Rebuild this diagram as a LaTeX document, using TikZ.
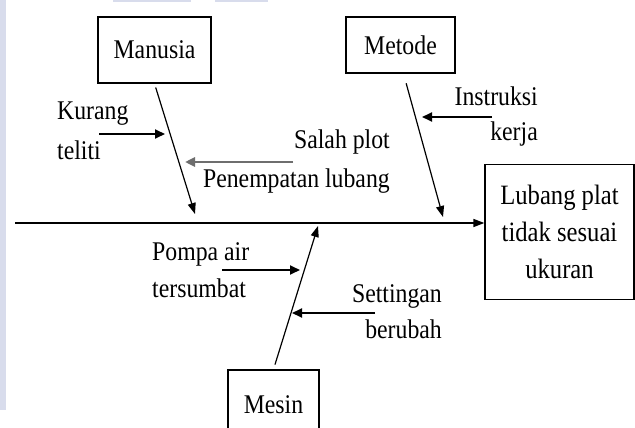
\documentclass[tikz,border=0pt]{standalone}
\usepackage{fontspec}
\setmainfont{Liberation Serif}[FakeStretch=0.88]
\usetikzlibrary{arrows.meta,positioning}
\definecolor{ScanLilac}{HTML}{D8DCEC}
\definecolor{PlotGray}{HTML}{6E6E6E}

\begin{document}
\begin{tikzpicture}[x=1pt,y=-1pt,
    box/.style={
      draw,
      line width=1.3pt,
      inner sep=0pt,
      align=center,
      font=\fontsize{27}{38}\selectfont
    },
    cause/.style={
      inner sep=0pt,
      font=\fontsize{27}{38}\selectfont
    },
    spine/.style={
      -{Triangle[length=11pt,width=8pt]},
      line width=1.2pt
    },
    sub/.style={
      -{Triangle[length=10pt,width=9pt]},
      line width=1.8pt
    }
  ]

  % Page and scan edge
  \fill[white] (0,0) rectangle (635,428);
  \useasboundingbox (0,0) rectangle (635,428);
  \clip (0,0) rectangle (635,428);
  \fill[ScanLilac] (0,0) rectangle (6,410);
  \fill[ScanLilac] (113,0) rectangle (191,2);
  \fill[ScanLilac] (215,0) rectangle (268,2);

  % Category boxes
  \node[box,minimum width=113pt,minimum height=66pt] (manusia) at (154.5,50)  {Manusia};
  \node[box,minimum width=109pt,minimum height=56pt] (metode)  at (400.5,45)  {Metode};
  \node[box,minimum width=91pt,minimum height=70pt]  (mesin)   at (273.5,405) {Mesin};

  % Effect
  \node[box,font=\fontsize{28}{37}\selectfont,minimum width=149pt,minimum height=135pt]
    (akibat) at (559.5,232) {Lubang plat\\tidak sesuai\\ukuran};

  % Main line
  \coordinate (tail) at (15,223);
  \draw[spine,line width=1.6pt] (tail) -- (tail -| akibat.west);

  % Spines
  \coordinate (mEnd) at (195,214);
  \coordinate (tEnd) at (443,217);
  \coordinate (sEnd) at (318,226);
  \draw[spine,shorten <=4pt] (manusia.south) -- (mEnd);
  \draw[spine,shorten <=10pt] ([xshift=3pt]metode.south) -- (tEnd);
  \draw[spine,shorten <=5pt] (mesin.north) -- (sEnd);

  % Causes
  \node[cause,anchor=base west,align=left]  (kurang)    at (57,159)  {Kurang\\[2pt]teliti};
  \node[cause,anchor=base east,align=right] (salah)     at (390,187) {Salah plot\\[1pt]Penempatan lubang};
  \node[cause,anchor=base east,align=right] (instruksi) at (538,140) {Instruksi\\[-3pt]kerja};
  \node[cause,anchor=base west,align=left]  (pompa)     at (152,297) {Pompa air\\[-1pt]tersumbat};
  \node[cause,anchor=base east,align=right] (setting)   at (442,338) {Settingan\\[-2pt]berubah};

  \coordinate (kFrom) at (99,134);  \coordinate (kTo) at (165,134);
  \coordinate (aFrom) at (293,162); \coordinate (aTo) at (185,162);
  \coordinate (iFrom) at (492,117); \coordinate (iTo) at (422,117);
  \coordinate (pFrom) at (222,270); \coordinate (pTo) at (300,270);
  \coordinate (gFrom) at (375,313); \coordinate (gTo) at (292,313);

  \draw[sub] (kFrom) -- (kTo);
  \draw[sub,color=PlotGray,line width=2.6pt] (aFrom) -- (aTo);
  \draw[sub] (iFrom) -- (iTo);
  \draw[sub] (pFrom) -- (pTo);
  \draw[sub] (gFrom) -- (gTo);

\end{tikzpicture}
\end{document}
